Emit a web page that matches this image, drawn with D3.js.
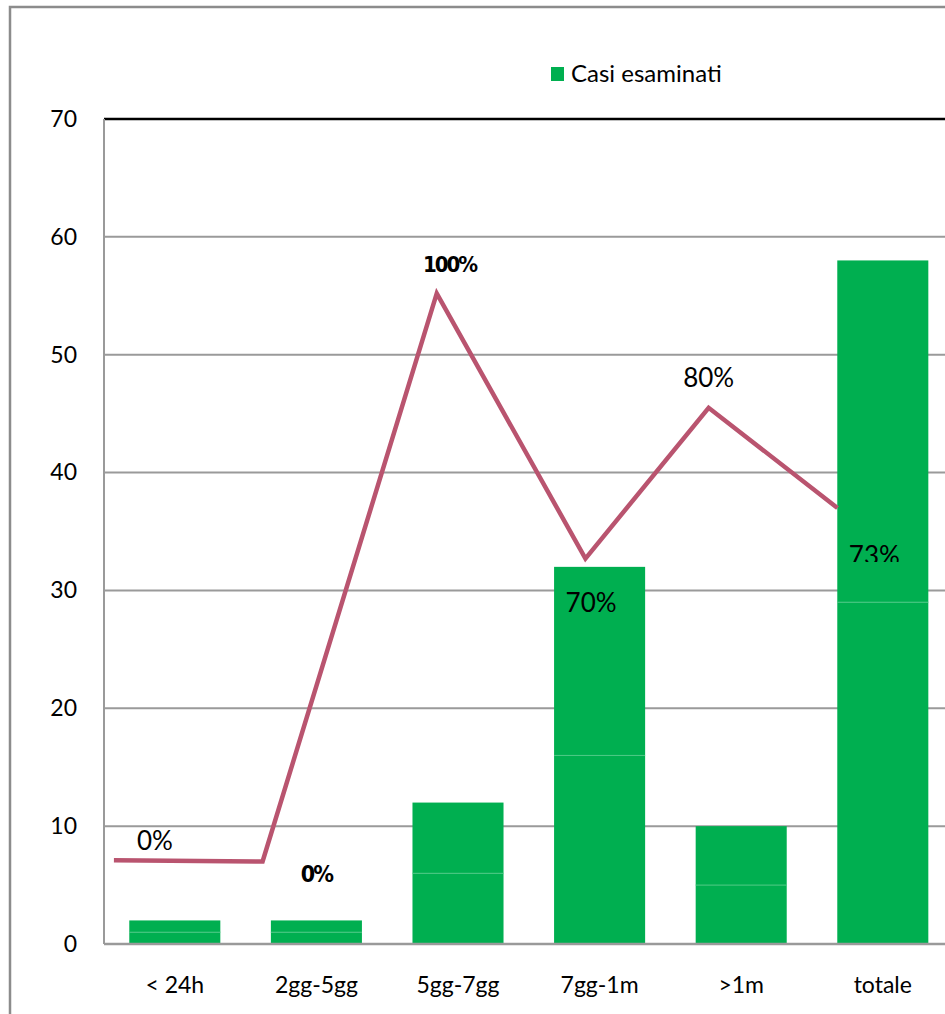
<!DOCTYPE html>
<html><head><meta charset="utf-8">
<script src="https://cdn.jsdelivr.net/npm/d3@7"></script>
<style>body{margin:0;background:#fff}svg{display:block}text{font-family:Lato,"Open Sans",sans-serif}</style>
</head><body>
<script>
const categories = ["< 24h","2gg-5gg","5gg-7gg","7gg-1m",">1m","totale"];
const lowerSeg = [1,1,6,16,5,29];
const upperSeg = [1,1,6,16,5,29];
const lineVals = [7.1,7.0,55.2,32.7,45.5,37.0];
const linePos = [0.07,1.12,2.35,3.40,4.27,5.18];
const pctLabels = ["0%","0%","100%","70%","80%","73%"];
const pctLabelVals = [8.0,5.3,57.0,28.2,47.3,32.2];
const pctLabelPos = [0.36,1.50,2.44,3.44,4.27,5.44];
const yTicks = [0,10,20,30,40,50,60,70];
const legendLabel = "Casi esaminati";

const W=945,H=1014;
const svg=d3.select("body").append("svg").attr("width",W).attr("height",H);
const left=104, y0=944, y70=119, step=141.6;
const y=d3.scaleLinear().domain([0,70]).range([y0,y70]);
const x=d3.scaleBand().domain(categories).range([left,left+6*step]).paddingInner(0.357).paddingOuter(0.1785);
const xl=d3.scaleLinear().domain([0,6]).range([left,left+6*step]);

// frame
svg.append("path").attr("d",`M10,${H+5}V7H${W+5}`).attr("fill","none").attr("stroke","#8c8c8c").attr("stroke-width",2.5);

// grid
svg.append("g").selectAll("line").data(yTicks.filter(t=>t>0&&t<70)).join("line")
 .attr("x1",left).attr("x2",W).attr("y1",d=>y(d)).attr("y2",d=>y(d)).attr("stroke","#9a9a9a").attr("stroke-width",2);
svg.append("line").attr("x1",left).attr("x2",W).attr("y1",y(70)).attr("y2",y(70)).attr("stroke","#000").attr("stroke-width",2.5);
svg.append("line").attr("x1",left).attr("x2",left).attr("y1",y(70)).attr("y2",y(0)).attr("stroke","#9a9a9a").attr("stroke-width",2);

// y ticks
const yAxis=d3.axisLeft(y).tickValues(yTicks).tickSize(0).tickPadding(27);
const ga=svg.append("g").attr("transform",`translate(${left},0)`).call(yAxis);
ga.select(".domain").remove();
ga.selectAll("text").attr("font-size",23).attr("fill","#000").style("font-family","Lato");

// bars
const bars=svg.append("g");
categories.forEach((c,i)=>{
  bars.append("rect").attr("x",x(c)).attr("width",x.bandwidth()).attr("y",y(lowerSeg[i])).attr("height",y(0)-y(lowerSeg[i]))
   .attr("fill","#00AF50");
  bars.append("rect").attr("x",x(c)).attr("width",x.bandwidth()).attr("y",y(lowerSeg[i]+upperSeg[i])).attr("height",y(lowerSeg[i])-y(lowerSeg[i]+upperSeg[i]))
   .attr("fill","#00AF50");
  bars.append("line").attr("x1",x(c)).attr("x2",x(c)+x.bandwidth()).attr("y1",y(lowerSeg[i])).attr("y2",y(lowerSeg[i]))
   .attr("stroke","#4cc884").attr("stroke-width",1);
});
// bottom axis
svg.append("line").attr("x1",left).attr("x2",W).attr("y1",y(0)).attr("y2",y(0)).attr("stroke","#9a9a9a").attr("stroke-width",2.5);

// x labels
const xAxis=d3.axisBottom(x).tickSize(0).tickPadding(33);
const gx=svg.append("g").attr("transform",`translate(0,${y0})`).call(xAxis);
gx.select(".domain").remove();
gx.selectAll("text").attr("font-size",23).attr("fill","#000").style("font-family","Lato");

// line
const pts=lineVals.map((v,i)=>[xl(linePos[i]),y(v)]);
svg.append("path").attr("d",d3.line()(pts)).attr("fill","none").attr("stroke","#B9546F").attr("stroke-width",4.5).attr("stroke-linejoin","miter");

// percent labels
const defs=svg.append("defs");
defs.append("clipPath").attr("id","clip73").append("rect").attr("x",0).attr("y",0).attr("width",W).attr("height",562);
pctLabels.forEach((t,i)=>{
  const px=(i===1||i===2);
  const tx=svg.append("text").attr("x",xl(pctLabelPos[i])).attr("y",y(pctLabelVals[i]))
   .attr("text-anchor","middle").attr("font-size",26).attr("fill","#000").text(t);
  if(px){tx.style("font-family","'Liberation Sans Narrow','DejaVu Sans Condensed',sans-serif").attr("font-weight","bold").attr("letter-spacing",-2).attr("font-size",i===1?23:22);}
  if(i===5) tx.attr("clip-path","url(#clip73)");
});

// legend
svg.append("rect").attr("x",551).attr("y",67).attr("width",13).attr("height",14).attr("fill","#00AF50");
svg.append("text").attr("x",571).attr("y",82).attr("font-size",24).attr("fill","#000").text(legendLabel);
</script>
</body></html>
